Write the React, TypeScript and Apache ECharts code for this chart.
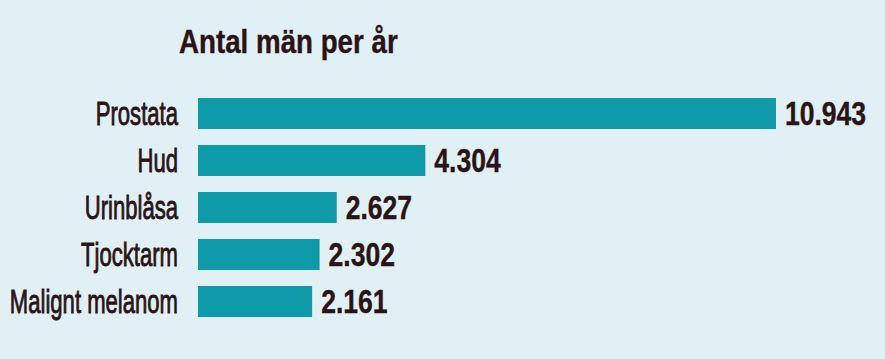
import React, { useEffect, useRef } from "react";
import * as echarts from "echarts";

const categories = ["Prostata", "Hud", "Urinblåsa", "Tjocktarm", "Malignt melanom"];
const values = [10943, 4304, 2627, 2302, 2161];
const titleText = "Antal män per år";

const FONT = "'Liberation Sans', Arial, sans-serif";
const TEXT = "#2a1416";
const BAR = "#0e9aa8";

function fmt(v: number): string {
  return String(v).replace(/\B(?=(\d{3})+(?!\d))/g, ".");
}

export default function App() {
  const ref = useRef<HTMLDivElement>(null);
  useEffect(() => {
    if (!ref.current) return;
    const chart = echarts.init(ref.current, null, { renderer: "svg" });
    chart.setOption({
      animation: false,
      backgroundColor: "#e1f0f5",
      graphic: [
        {
          type: "text",
          x: 179,
          y: 41,
          scaleX: 0.84,
          style: {
            text: titleText,
            font: `bold 33px ${FONT}`,
            fill: TEXT,
            stroke: TEXT,
            lineWidth: 0.4,
            align: "left",
            verticalAlign: "middle",
          },
        },
      ],
      grid: { left: 198, right: 109, top: 90, bottom: 34, containLabel: false, outerBoundsMode: "none" },
      xAxis: {
        type: "value",
        min: 0,
        max: Math.max(...values),
        show: false,
      },
      yAxis: {
        type: "category",
        data: categories,
        inverse: true,
        show: false,
      },
      series: [
        {
          type: "custom",
          data: values.map((v, i) => [v, i]),
          encode: { x: 0, y: 1 },
          renderItem: (params: any, api: any) => {
            const v = api.value(0);
            const idx = api.value(1);
            const start = api.coord([0, idx]);
            const end = api.coord([v, idx]);
            const h = 31;
            return {
              type: "group",
              children: [
                {
                  type: "rect",
                  shape: { x: start[0], y: start[1] - h / 2, width: end[0] - start[0], height: h },
                  style: { fill: BAR },
                },
                {
                  type: "text",
                  x: end[0] + 9,
                  y: end[1] - 1,
                  scaleX: 0.78,
                  style: {
                    text: fmt(v),
                    font: `bold 34px ${FONT}`,
                    fill: TEXT,
                    stroke: TEXT,
                    lineWidth: 0.4,
                    align: "left",
                    verticalAlign: "middle",
                  },
                },
                {
                  type: "text",
                  x: start[0] - 20,
                  y: start[1],
                  scaleX: 0.65,
                  style: {
                    text: categories[idx],
                    font: `34px ${FONT}`,
                    fill: TEXT,
                    stroke: TEXT,
                    lineWidth: 0.9,
                    align: "right",
                    verticalAlign: "middle",
                  },
                },
              ],
            };
          },
        },
      ],
    });
    return () => chart.dispose();
  }, []);
  return (
    <div
      ref={ref}
      style={{ position: "absolute", left: 0, top: 0, width: 885, height: 359 }}
    />
  );
}
